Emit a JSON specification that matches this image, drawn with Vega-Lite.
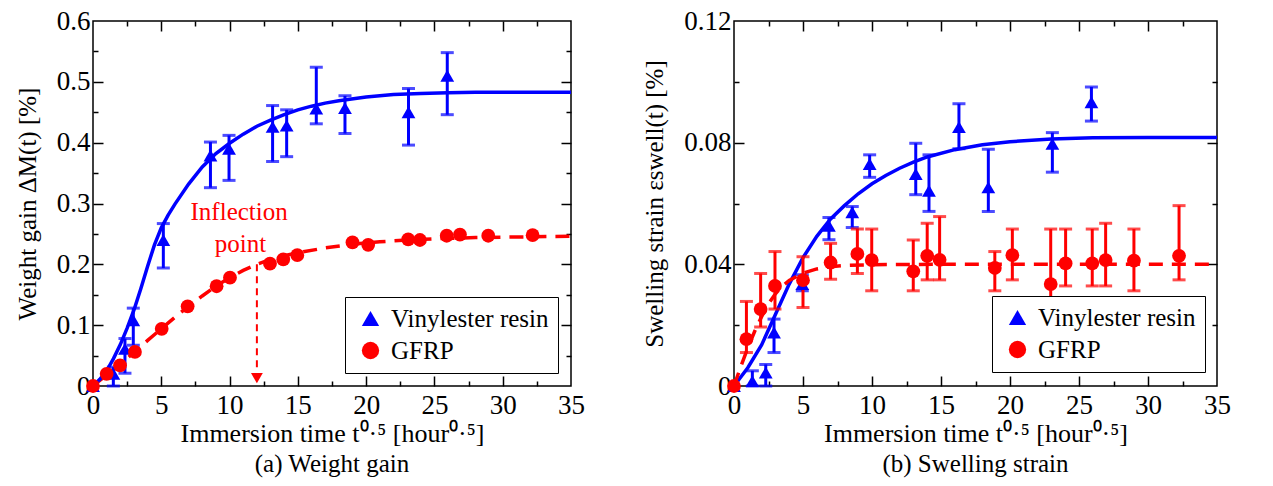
{
  "$schema": "https://vega.github.io/schema/vega-lite/v6.json",
  "background": "white",
  "padding": {"left": 14, "top": 6, "right": 5, "bottom": 5},
  "spacing": 56,
  "config": {
    "font": "Liberation Serif",
    "view": {"stroke": "black", "strokeWidth": 1.5},
    "axis": {"domain": false, "grid": false, "labelFont": "Liberation Serif", "titleFont": "Liberation Serif", "labelFontSize": 27, "titleFontSize": 26, "labelColor": "black", "titleColor": "black", "tickColor": "black", "tickWidth": 1.5, "titleFontWeight": "normal", "labelFlush": false, "labelOverlap": false, "labelBound": false},
    "legend": {"labelFont": "Liberation Serif"},
    "text": {"font": "Liberation Serif"},
    "title": {"font": "Liberation Serif", "fontSize": 25, "fontWeight": "normal", "color": "black"}
  },
  "datasets": {
    "wg": [
      {"series": "Vinylester resin", "x": 0, "y": 0, "lo": null, "hi": null},
      {"series": "Vinylester resin", "x": 1.49, "y": 0.02, "lo": 0.0, "hi": 0.031},
      {"series": "Vinylester resin", "x": 2.34, "y": 0.061, "lo": 0.021, "hi": 0.078},
      {"series": "Vinylester resin", "x": 2.95, "y": 0.108, "lo": 0.067, "hi": 0.128},
      {"series": "Vinylester resin", "x": 5.15, "y": 0.24, "lo": 0.194, "hi": 0.267},
      {"series": "Vinylester resin", "x": 8.6, "y": 0.379, "lo": 0.326, "hi": 0.401},
      {"series": "Vinylester resin", "x": 9.96, "y": 0.39, "lo": 0.338, "hi": 0.412},
      {"series": "Vinylester resin", "x": 13.15, "y": 0.426, "lo": 0.369, "hi": 0.461},
      {"series": "Vinylester resin", "x": 14.18, "y": 0.428, "lo": 0.377, "hi": 0.454},
      {"series": "Vinylester resin", "x": 16.35, "y": 0.456, "lo": 0.431, "hi": 0.524},
      {"series": "Vinylester resin", "x": 18.45, "y": 0.457, "lo": 0.415, "hi": 0.477},
      {"series": "Vinylester resin", "x": 23.1, "y": 0.45, "lo": 0.396, "hi": 0.489},
      {"series": "Vinylester resin", "x": 25.94, "y": 0.51, "lo": 0.446, "hi": 0.548},
      {"series": "GFRP", "x": 0, "y": 0, "lo": null, "hi": null},
      {"series": "GFRP", "x": 1.0, "y": 0.02, "lo": null, "hi": null},
      {"series": "GFRP", "x": 1.98, "y": 0.034, "lo": null, "hi": null},
      {"series": "GFRP", "x": 3.07, "y": 0.056, "lo": null, "hi": null},
      {"series": "GFRP", "x": 5.03, "y": 0.094, "lo": null, "hi": null},
      {"series": "GFRP", "x": 6.93, "y": 0.131, "lo": null, "hi": null},
      {"series": "GFRP", "x": 9.05, "y": 0.164, "lo": null, "hi": null},
      {"series": "GFRP", "x": 10.03, "y": 0.178, "lo": null, "hi": null},
      {"series": "GFRP", "x": 12.96, "y": 0.201, "lo": null, "hi": null},
      {"series": "GFRP", "x": 13.93, "y": 0.208, "lo": null, "hi": null},
      {"series": "GFRP", "x": 14.96, "y": 0.215, "lo": null, "hi": null},
      {"series": "GFRP", "x": 19.0, "y": 0.236, "lo": null, "hi": null},
      {"series": "GFRP", "x": 20.15, "y": 0.232, "lo": null, "hi": null},
      {"series": "GFRP", "x": 23.08, "y": 0.241, "lo": null, "hi": null},
      {"series": "GFRP", "x": 23.94, "y": 0.24, "lo": null, "hi": null},
      {"series": "GFRP", "x": 25.9, "y": 0.247, "lo": null, "hi": null},
      {"series": "GFRP", "x": 26.87, "y": 0.249, "lo": null, "hi": null},
      {"series": "GFRP", "x": 28.94, "y": 0.247, "lo": null, "hi": null},
      {"series": "GFRP", "x": 32.19, "y": 0.248, "lo": null, "hi": null}
    ],
    "wgFitV": [
      {"x": 0, "y": 0}, {"x": 0.5, "y": 0.011}, {"x": 1, "y": 0.025}, {"x": 1.5, "y": 0.045}, {"x": 2, "y": 0.068},
      {"x": 2.5, "y": 0.095}, {"x": 3, "y": 0.125}, {"x": 3.5, "y": 0.16}, {"x": 4, "y": 0.197}, {"x": 4.5, "y": 0.232},
      {"x": 5, "y": 0.26}, {"x": 5.5, "y": 0.281}, {"x": 6, "y": 0.299}, {"x": 7, "y": 0.332}, {"x": 8, "y": 0.36},
      {"x": 9, "y": 0.382}, {"x": 10, "y": 0.399}, {"x": 11, "y": 0.414}, {"x": 12, "y": 0.427}, {"x": 13, "y": 0.437},
      {"x": 14, "y": 0.446}, {"x": 15, "y": 0.454}, {"x": 16, "y": 0.46}, {"x": 17, "y": 0.465}, {"x": 18, "y": 0.469},
      {"x": 20, "y": 0.475}, {"x": 22, "y": 0.479}, {"x": 24, "y": 0.481}, {"x": 26, "y": 0.482}, {"x": 28, "y": 0.483},
      {"x": 30, "y": 0.483}, {"x": 35, "y": 0.483}
    ],
    "wgFitG": [
      {"x": 0, "y": 0}, {"x": 1, "y": 0.018}, {"x": 2, "y": 0.036}, {"x": 3, "y": 0.055}, {"x": 4, "y": 0.075},
      {"x": 5, "y": 0.094}, {"x": 6, "y": 0.113}, {"x": 7, "y": 0.131}, {"x": 8, "y": 0.148}, {"x": 9, "y": 0.164},
      {"x": 10, "y": 0.178}, {"x": 11, "y": 0.19}, {"x": 12, "y": 0.2}, {"x": 13, "y": 0.208}, {"x": 14, "y": 0.214},
      {"x": 15, "y": 0.219}, {"x": 17, "y": 0.227}, {"x": 19, "y": 0.233}, {"x": 21, "y": 0.237}, {"x": 23, "y": 0.24},
      {"x": 25, "y": 0.242}, {"x": 28, "y": 0.244}, {"x": 31, "y": 0.245}, {"x": 35, "y": 0.246}
    ],
    "ss": [
      {"series": "Vinylester resin", "x": 0, "y": 0, "lo": null, "hi": null},
      {"series": "Vinylester resin", "x": 1.33, "y": 0.0016, "lo": 0.0, "hi": 0.005},
      {"series": "Vinylester resin", "x": 2.3, "y": 0.0044, "lo": 0.0, "hi": 0.0071},
      {"series": "Vinylester resin", "x": 2.9, "y": 0.0176, "lo": 0.011, "hi": 0.022},
      {"series": "Vinylester resin", "x": 4.95, "y": 0.0335, "lo": 0.0313, "hi": 0.0366},
      {"series": "Vinylester resin", "x": 6.88, "y": 0.0527, "lo": 0.0481, "hi": 0.0554},
      {"series": "Vinylester resin", "x": 8.57, "y": 0.0571, "lo": 0.0521, "hi": 0.059},
      {"series": "Vinylester resin", "x": 9.83, "y": 0.073, "lo": 0.0686, "hi": 0.076},
      {"series": "Vinylester resin", "x": 13.17, "y": 0.0697, "lo": 0.0629, "hi": 0.0798},
      {"series": "Vinylester resin", "x": 14.13, "y": 0.0642, "lo": 0.0574, "hi": 0.076},
      {"series": "Vinylester resin", "x": 16.3, "y": 0.0851, "lo": 0.078, "hi": 0.0928},
      {"series": "Vinylester resin", "x": 18.43, "y": 0.0653, "lo": 0.0574, "hi": 0.0778},
      {"series": "Vinylester resin", "x": 23.07, "y": 0.0796, "lo": 0.0703, "hi": 0.0833},
      {"series": "Vinylester resin", "x": 25.9, "y": 0.0933, "lo": 0.0871, "hi": 0.0983},
      {"series": "GFRP", "x": 0, "y": 0, "lo": null, "hi": null},
      {"series": "GFRP", "x": 0.9, "y": 0.0154, "lo": 0.011, "hi": 0.0278},
      {"series": "GFRP", "x": 1.93, "y": 0.0253, "lo": 0.0194, "hi": 0.037},
      {"series": "GFRP", "x": 2.97, "y": 0.0329, "lo": 0.0253, "hi": 0.0442},
      {"series": "GFRP", "x": 5.0, "y": 0.0348, "lo": 0.0258, "hi": 0.0425},
      {"series": "GFRP", "x": 7.0, "y": 0.0406, "lo": 0.0351, "hi": 0.0469},
      {"series": "GFRP", "x": 8.94, "y": 0.0434, "lo": 0.037, "hi": 0.0516},
      {"series": "GFRP", "x": 9.98, "y": 0.0414, "lo": 0.0313, "hi": 0.0516},
      {"series": "GFRP", "x": 12.99, "y": 0.0377, "lo": 0.0313, "hi": 0.048},
      {"series": "GFRP", "x": 14.0, "y": 0.0428, "lo": 0.0349, "hi": 0.0535},
      {"series": "GFRP", "x": 14.9, "y": 0.0415, "lo": 0.0349, "hi": 0.0557},
      {"series": "GFRP", "x": 18.9, "y": 0.0388, "lo": 0.0313, "hi": 0.0442},
      {"series": "GFRP", "x": 20.17, "y": 0.043, "lo": 0.0349, "hi": 0.0516},
      {"series": "GFRP", "x": 22.95, "y": 0.0335, "lo": 0.0236, "hi": 0.0516},
      {"series": "GFRP", "x": 24.03, "y": 0.0403, "lo": 0.0329, "hi": 0.0516},
      {"series": "GFRP", "x": 25.96, "y": 0.0403, "lo": 0.0329, "hi": 0.0516},
      {"series": "GFRP", "x": 26.93, "y": 0.0414, "lo": 0.0329, "hi": 0.0535},
      {"series": "GFRP", "x": 28.98, "y": 0.0412, "lo": 0.0313, "hi": 0.0516},
      {"series": "GFRP", "x": 32.25, "y": 0.0428, "lo": 0.0349, "hi": 0.0593}
    ],
    "ssFitV": [
      {"x": 0, "y": 0}, {"x": 1, "y": 0.006}, {"x": 2, "y": 0.0135}, {"x": 3, "y": 0.0235}, {"x": 4, "y": 0.0335},
      {"x": 5, "y": 0.0422}, {"x": 6, "y": 0.0492}, {"x": 7, "y": 0.0549}, {"x": 8, "y": 0.0593}, {"x": 9, "y": 0.0632},
      {"x": 10, "y": 0.0665}, {"x": 11, "y": 0.0692}, {"x": 12, "y": 0.0716}, {"x": 13, "y": 0.0736}, {"x": 14, "y": 0.0753},
      {"x": 16, "y": 0.0777}, {"x": 18, "y": 0.0793}, {"x": 20, "y": 0.0803}, {"x": 23, "y": 0.0812}, {"x": 26, "y": 0.0816},
      {"x": 30, "y": 0.0817}, {"x": 35, "y": 0.0817}
    ],
    "ssFitG": [
      {"x": 0, "y": 0}, {"x": 0.5, "y": 0.0065}, {"x": 1, "y": 0.0125}, {"x": 1.5, "y": 0.018}, {"x": 2, "y": 0.0228},
      {"x": 2.5, "y": 0.027}, {"x": 3, "y": 0.0303}, {"x": 3.5, "y": 0.0328}, {"x": 4, "y": 0.0347}, {"x": 5, "y": 0.0371},
      {"x": 6, "y": 0.0385}, {"x": 7, "y": 0.0392}, {"x": 8, "y": 0.0396}, {"x": 10, "y": 0.0399}, {"x": 15, "y": 0.04},
      {"x": 35, "y": 0.04}
    ],
    "arrow": [{"x": 12, "y": 0.2, "y2": 0.026}],
    "arrowHead": [{"x": 12, "y": 0.013}],
    "note": [{"x": 10.7, "y": 0.286, "t": "Inflection"}, {"x": 10.8, "y": 0.234, "t": "point"}]
  },
  "resolve": {"scale": {"color": "independent", "shape": "independent"}, "legend": {"color": "independent", "shape": "independent"}},
  "hconcat": [
    {
      "width": 478,
      "height": 365,
      "title": {"text": "(a) Weight gain", "orient": "bottom", "offset": 6},
      "resolve": {"axis": {"x": "independent", "y": "independent"}},
      "layer": [
        {
          "data": {"name": "wgFitG"},
          "mark": {"type": "line", "color": "#ff0000", "strokeWidth": 3.5, "strokeDash": [14, 9]},
          "encoding": {
            "x": {"field": "x", "type": "quantitative", "scale": {"domain": [0, 35], "nice": false, "zero": false},
              "axis": {"orient": "bottom", "values": [0, 5, 10, 15, 20, 25, 30, 35], "ticks": false, "labelPadding": 6, "title": "Immersion time t⁰·⁵ [hour⁰·⁵]", "titlePadding": 2}},
            "y": {"field": "y", "type": "quantitative", "scale": {"domain": [0, 0.6], "nice": false, "zero": false},
              "axis": {"orient": "left", "values": [0, 0.1, 0.2, 0.3, 0.4, 0.5, 0.6], "format": ".1~f", "ticks": false, "labelPadding": 3, "title": "Weight gain ΔM(t) [%]", "titleFontSize": 25, "titlePadding": 16}}
          }
        },
        {
          "data": {"name": "wgFitV"},
          "mark": {"type": "line", "color": "#0000ff", "strokeWidth": 3.5},
          "encoding": {
            "x": {"field": "x", "type": "quantitative", "scale": {"domain": [0, 35], "nice": false, "zero": false},
              "axis": {"orient": "bottom", "values": [5, 10, 15, 20, 25, 30], "tickSize": -10, "labels": false, "title": null}},
            "y": {"field": "y", "type": "quantitative", "scale": {"domain": [0, 0.6], "nice": false, "zero": false},
              "axis": {"orient": "left", "values": [0.1, 0.2, 0.3, 0.4, 0.5], "tickSize": -10, "labels": false, "title": null}}
          }
        },
        {
          "data": {"name": "wg"},
          "transform": [{"filter": "datum.lo != null"}],
          "mark": {"type": "rule", "color": "#0000ff", "strokeWidth": 3},
          "encoding": {
            "x": {"field": "x", "type": "quantitative", "scale": {"domain": [0, 35], "nice": false, "zero": false},
              "axis": {"orient": "bottom", "values": [2.5, 7.5, 12.5, 17.5, 22.5, 27.5, 32.5], "tickSize": -5, "labels": false, "title": null}},
            "y": {"field": "lo", "type": "quantitative", "scale": {"domain": [0, 0.6], "nice": false, "zero": false},
              "axis": {"orient": "left", "values": [0.05, 0.15, 0.25, 0.35, 0.45, 0.55], "tickSize": -5, "labels": false, "title": null}},
            "y2": {"field": "hi"}
          }
        },
        {
          "data": {"name": "wg"},
          "transform": [{"filter": "datum.lo != null"}],
          "mark": {"type": "tick", "orient": "horizontal", "color": "#0000ff", "size": 13, "thickness": 3},
          "encoding": {
            "x": {"field": "x", "type": "quantitative", "scale": {"domain": [0, 35], "nice": false, "zero": false},
              "axis": {"orient": "top", "values": [5, 10, 15, 20, 25, 30], "tickSize": -10, "labels": false, "title": null}},
            "y": {"field": "hi", "type": "quantitative", "scale": {"domain": [0, 0.6], "nice": false, "zero": false},
              "axis": {"orient": "right", "values": [0.1, 0.2, 0.3, 0.4, 0.5], "tickSize": -10, "labels": false, "title": null}}
          }
        },
        {
          "data": {"name": "wg"},
          "transform": [{"filter": "datum.lo != null"}],
          "mark": {"type": "tick", "orient": "horizontal", "color": "#0000ff", "size": 13, "thickness": 3},
          "encoding": {
            "x": {"field": "x", "type": "quantitative", "scale": {"domain": [0, 35], "nice": false, "zero": false},
              "axis": {"orient": "top", "values": [2.5, 7.5, 12.5, 17.5, 22.5, 27.5, 32.5], "tickSize": -5, "labels": false, "title": null}},
            "y": {"field": "lo", "type": "quantitative", "scale": {"domain": [0, 0.6], "nice": false, "zero": false},
              "axis": {"orient": "right", "values": [0.05, 0.15, 0.25, 0.35, 0.45, 0.55], "tickSize": -5, "labels": false, "title": null}}
          }
        },
        {
          "data": {"name": "wg"},
          "mark": {"type": "point", "filled": true, "opacity": 1, "size": 190, "strokeWidth": 0},
          "encoding": {
            "x": {"field": "x", "type": "quantitative", "scale": {"domain": [0, 35], "nice": false, "zero": false}, "axis": null},
            "y": {"field": "y", "type": "quantitative", "scale": {"domain": [0, 0.6], "nice": false, "zero": false}, "axis": null},
            "color": {"field": "series", "type": "nominal", "scale": {"domain": ["Vinylester resin", "GFRP"], "range": ["#0000ff", "#ff0000"]},
              "legend": {"title": null, "orient": "none", "legendX": 252, "legendY": 276, "strokeColor": "black", "fillColor": "white", "padding": 9, "labelFont": "Liberation Serif", "labelFontSize": 25, "labelColor": "black", "symbolSize": 300, "symbolStrokeWidth": 0, "rowPadding": 6, "labelOffset": 8, "symbolOffset": 4}},
            "shape": {"field": "series", "type": "nominal", "scale": {"domain": ["Vinylester resin", "GFRP"], "range": ["triangle-up", "circle"]},
              "legend": {"title": null, "orient": "none", "legendX": 252, "legendY": 276, "strokeColor": "black", "fillColor": "white", "padding": 9, "labelFont": "Liberation Serif", "labelFontSize": 25, "labelColor": "black", "symbolSize": 300, "symbolStrokeWidth": 0, "rowPadding": 6, "labelOffset": 8, "symbolOffset": 4}}
          }
        },
        {
          "data": {"name": "arrow"},
          "mark": {"type": "rule", "color": "#ff0000", "strokeWidth": 2, "strokeDash": [7, 5]},
          "encoding": {
            "x": {"field": "x", "type": "quantitative", "scale": {"domain": [0, 35], "nice": false, "zero": false}, "axis": null},
            "y": {"field": "y", "type": "quantitative", "scale": {"domain": [0, 0.6], "nice": false, "zero": false}, "axis": null},
            "y2": {"field": "y2"}
          }
        },
        {
          "data": {"name": "arrowHead"},
          "mark": {"type": "point", "shape": "triangle-down", "filled": true, "color": "#ff0000", "opacity": 1, "size": 140, "strokeWidth": 0},
          "encoding": {
            "x": {"field": "x", "type": "quantitative", "scale": {"domain": [0, 35], "nice": false, "zero": false}, "axis": null},
            "y": {"field": "y", "type": "quantitative", "scale": {"domain": [0, 0.6], "nice": false, "zero": false}, "axis": null}
          }
        },
        {
          "data": {"name": "note"},
          "mark": {"type": "text", "color": "#ff0000", "font": "Liberation Serif", "fontSize": 25, "align": "center", "baseline": "middle"},
          "encoding": {
            "x": {"field": "x", "type": "quantitative", "scale": {"domain": [0, 35], "nice": false, "zero": false}, "axis": null},
            "y": {"field": "y", "type": "quantitative", "scale": {"domain": [0, 0.6], "nice": false, "zero": false}, "axis": null},
            "text": {"field": "t"}
          }
        }
      ]
    },
    {
      "width": 483,
      "height": 365,
      "title": {"text": "(b) Swelling strain", "orient": "bottom", "offset": 6},
      "resolve": {"axis": {"x": "independent", "y": "independent"}},
      "layer": [
        {
          "data": {"name": "ss"},
          "transform": [{"filter": "datum.lo != null && datum.series == 'Vinylester resin'"}],
          "mark": {"type": "rule", "color": "#0000ff", "strokeWidth": 3},
          "encoding": {
            "x": {"field": "x", "type": "quantitative", "scale": {"domain": [0, 35], "nice": false, "zero": false},
              "axis": {"orient": "bottom", "values": [0, 5, 10, 15, 20, 25, 30, 35], "ticks": false, "labelPadding": 6, "title": "Immersion time t⁰·⁵ [hour⁰·⁵]", "titlePadding": 2}},
            "y": {"field": "lo", "type": "quantitative", "scale": {"domain": [0, 0.12], "nice": false, "zero": false},
              "axis": {"orient": "left", "values": [0, 0.04, 0.08, 0.12], "format": ".2~f", "ticks": false, "labelPadding": 3, "title": "Swelling strain εswell(t) [%]", "titleFontSize": 25, "titlePadding": 16}},
            "y2": {"field": "hi"}
          }
        },
        {
          "data": {"name": "ss"},
          "transform": [{"filter": "datum.lo != null && datum.series == 'Vinylester resin'"}],
          "mark": {"type": "tick", "orient": "horizontal", "color": "#0000ff", "size": 13, "thickness": 3},
          "encoding": {
            "x": {"field": "x", "type": "quantitative", "scale": {"domain": [0, 35], "nice": false, "zero": false},
              "axis": {"orient": "bottom", "values": [5, 10, 15, 20, 25, 30], "tickSize": -10, "labels": false, "title": null}},
            "y": {"field": "hi", "type": "quantitative", "scale": {"domain": [0, 0.12], "nice": false, "zero": false},
              "axis": {"orient": "left", "values": [0.04, 0.08], "tickSize": -10, "labels": false, "title": null}}
          }
        },
        {
          "data": {"name": "ss"},
          "transform": [{"filter": "datum.lo != null && datum.series == 'Vinylester resin'"}],
          "mark": {"type": "tick", "orient": "horizontal", "color": "#0000ff", "size": 13, "thickness": 3},
          "encoding": {
            "x": {"field": "x", "type": "quantitative", "scale": {"domain": [0, 35], "nice": false, "zero": false},
              "axis": {"orient": "bottom", "values": [2.5, 7.5, 12.5, 17.5, 22.5, 27.5, 32.5], "tickSize": -5, "labels": false, "title": null}},
            "y": {"field": "lo", "type": "quantitative", "scale": {"domain": [0, 0.12], "nice": false, "zero": false},
              "axis": {"orient": "left", "values": [0.02, 0.06, 0.1], "tickSize": -5, "labels": false, "title": null}}
          }
        },
        {
          "data": {"name": "ssFitV"},
          "mark": {"type": "line", "color": "#0000ff", "strokeWidth": 3.5},
          "encoding": {
            "x": {"field": "x", "type": "quantitative", "scale": {"domain": [0, 35], "nice": false, "zero": false},
              "axis": {"orient": "top", "values": [5, 10, 15, 20, 25, 30], "tickSize": -10, "labels": false, "title": null}},
            "y": {"field": "y", "type": "quantitative", "scale": {"domain": [0, 0.12], "nice": false, "zero": false},
              "axis": {"orient": "right", "values": [0.04, 0.08], "tickSize": -10, "labels": false, "title": null}}
          }
        },
        {
          "data": {"name": "ssFitG"},
          "mark": {"type": "line", "color": "#ff0000", "strokeWidth": 3.5, "strokeDash": [14, 9]},
          "encoding": {
            "x": {"field": "x", "type": "quantitative", "scale": {"domain": [0, 35], "nice": false, "zero": false},
              "axis": {"orient": "top", "values": [2.5, 7.5, 12.5, 17.5, 22.5, 27.5, 32.5], "tickSize": -5, "labels": false, "title": null}},
            "y": {"field": "y", "type": "quantitative", "scale": {"domain": [0, 0.12], "nice": false, "zero": false},
              "axis": {"orient": "right", "values": [0.02, 0.06, 0.1], "tickSize": -5, "labels": false, "title": null}}
          }
        },
        {
          "data": {"name": "ss"},
          "transform": [{"filter": "datum.lo != null && datum.series == 'GFRP'"}],
          "mark": {"type": "rule", "color": "#ff0000", "strokeWidth": 3},
          "encoding": {
            "x": {"field": "x", "type": "quantitative", "scale": {"domain": [0, 35], "nice": false, "zero": false}, "axis": null},
            "y": {"field": "lo", "type": "quantitative", "scale": {"domain": [0, 0.12], "nice": false, "zero": false}, "axis": null},
            "y2": {"field": "hi"}
          }
        },
        {
          "data": {"name": "ss"},
          "transform": [{"filter": "datum.lo != null && datum.series == 'GFRP'"}],
          "mark": {"type": "tick", "orient": "horizontal", "color": "#ff0000", "size": 13, "thickness": 3},
          "encoding": {
            "x": {"field": "x", "type": "quantitative", "scale": {"domain": [0, 35], "nice": false, "zero": false}, "axis": null},
            "y": {"field": "hi", "type": "quantitative", "scale": {"domain": [0, 0.12], "nice": false, "zero": false}, "axis": null}
          }
        },
        {
          "data": {"name": "ss"},
          "transform": [{"filter": "datum.lo != null && datum.series == 'GFRP'"}],
          "mark": {"type": "tick", "orient": "horizontal", "color": "#ff0000", "size": 13, "thickness": 3},
          "encoding": {
            "x": {"field": "x", "type": "quantitative", "scale": {"domain": [0, 35], "nice": false, "zero": false}, "axis": null},
            "y": {"field": "lo", "type": "quantitative", "scale": {"domain": [0, 0.12], "nice": false, "zero": false}, "axis": null}
          }
        },
        {
          "data": {"name": "ss"},
          "mark": {"type": "point", "filled": true, "opacity": 1, "size": 190, "strokeWidth": 0},
          "encoding": {
            "x": {"field": "x", "type": "quantitative", "scale": {"domain": [0, 35], "nice": false, "zero": false}, "axis": null},
            "y": {"field": "y", "type": "quantitative", "scale": {"domain": [0, 0.12], "nice": false, "zero": false}, "axis": null},
            "color": {"field": "series", "type": "nominal", "scale": {"domain": ["Vinylester resin", "GFRP"], "range": ["#0000ff", "#ff0000"]},
              "legend": {"title": null, "orient": "none", "legendX": 258, "legendY": 275, "strokeColor": "black", "fillColor": "white", "padding": 9, "labelFont": "Liberation Serif", "labelFontSize": 25, "labelColor": "black", "symbolSize": 300, "symbolStrokeWidth": 0, "rowPadding": 6, "labelOffset": 8, "symbolOffset": 4}},
            "shape": {"field": "series", "type": "nominal", "scale": {"domain": ["Vinylester resin", "GFRP"], "range": ["triangle-up", "circle"]},
              "legend": {"title": null, "orient": "none", "legendX": 258, "legendY": 275, "strokeColor": "black", "fillColor": "white", "padding": 9, "labelFont": "Liberation Serif", "labelFontSize": 25, "labelColor": "black", "symbolSize": 300, "symbolStrokeWidth": 0, "rowPadding": 6, "labelOffset": 8, "symbolOffset": 4}}
          }
        }
      ]
    }
  ]
}
